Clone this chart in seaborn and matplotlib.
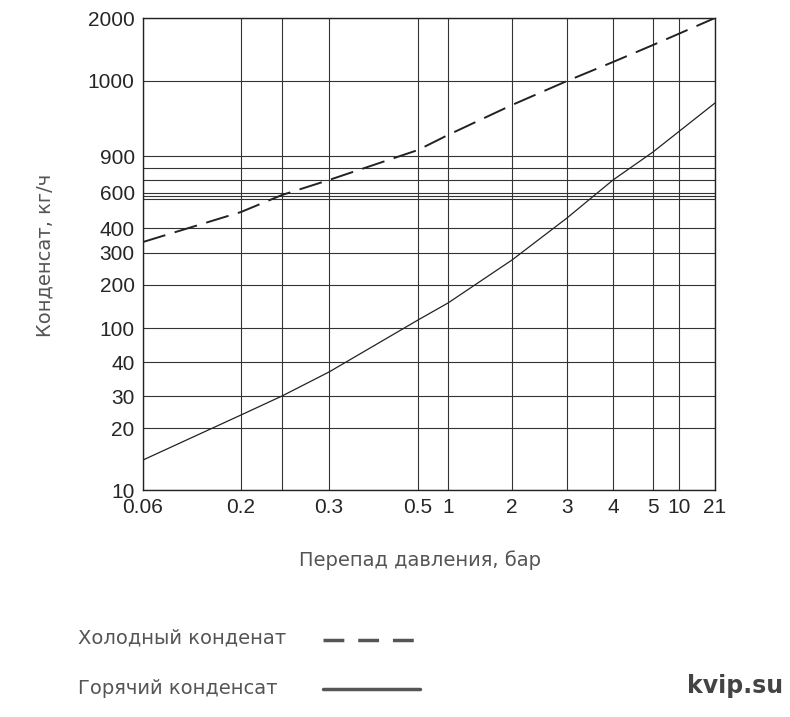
import matplotlib
matplotlib.use("Agg")
import matplotlib.pyplot as plt
import seaborn as sns
import pandas as pd

sns.set_style("white")

# x tick positions (chart units) and labels
x_tick_pos = [0, 98, 139, 186, 275, 305, 369, 424, 470, 510, 536, 572]
x_tick_lab = ["0.06", "0.2", "", "0.3", "0.5", "1", "2", "3", "4", "5", "10", "21"]
# y gridline positions and labels
y_tick_pos = [0, 62, 94, 128, 162, 205, 237, 262, 291, 294, 297, 310, 322, 334, 409, 472]
y_tick_lab = ["10", "20", "30", "40", "100", "200", "300", "400", "", "", "600", "", "", "900", "1000", "2000"]

# curves (chart units)
cold_x = [0, 98, 139, 186, 275, 305, 369, 424, 470, 510, 572]
cold_y = [248, 278, 295, 310, 340, 355, 385, 409, 428, 445, 472]
hot_x = [0, 98, 139, 186, 275, 305, 369, 424, 470, 510, 572]
hot_y = [30, 75, 94, 118, 170, 187, 230, 272, 310, 338, 387]

fig = plt.figure(figsize=(7.9, 7.17), dpi=100)
ax = fig.add_axes([143/790, (717-490)/717, 572/790, 472/717])

for x in x_tick_pos:
    ax.axvline(x, color="#333", lw=0.8, zorder=1)
for y in y_tick_pos:
    ax.axhline(y, color="#333", lw=0.8, zorder=1)

df_c = pd.DataFrame({"x": cold_x, "y": cold_y})
df_h = pd.DataFrame({"x": hot_x, "y": hot_y})
sns.lineplot(data=df_c, x="x", y="y", ax=ax, color="#222", lw=1.4, linestyle=(0, (12, 5)))
sns.lineplot(data=df_h, x="x", y="y", ax=ax, color="#222", lw=0.9)

ax.set_xlim(0, 572)
ax.set_ylim(0, 472)
ax.set_xticks(x_tick_pos)
ax.set_xticklabels(x_tick_lab, fontfamily="Liberation Sans", fontsize=15)
labs = ax.get_xticklabels()
shifts = {3: -10, 4: -4, 11: -8}
import matplotlib.transforms as mt
for i, d in shifts.items():
    labs[i].set_transform(labs[i].get_transform() + mt.ScaledTranslation(d/100, 0, fig.dpi_scale_trans))
ax.set_yticks(y_tick_pos)
ax.set_yticklabels(y_tick_lab, fontfamily="Liberation Sans", fontsize=15)
ax.tick_params(length=0, pad=6)
ax.set_xlabel("")
ax.set_ylabel("")
for s in ax.spines.values():
    s.set_color("#222")
    s.set_linewidth(1)

gray = "#555555"
fig.text(45/790, 1 - 255/717, "Конденсат, кг/ч", rotation=90, ha="center", va="center",
         fontsize=14, color=gray, fontfamily="DejaVu Sans")
fig.text(420/790, 1 - 560/717, "Перепад давления, бар", ha="center", va="center",
         fontsize=14, color=gray, fontfamily="DejaVu Sans")
fig.text(78/790, 1 - 638/717, "Холодный конденат", ha="left", va="center",
         fontsize=14, color=gray, fontfamily="DejaVu Sans")
fig.text(78/790, 1 - 689/717, "Горячий конденсат", ha="left", va="center",
         fontsize=14, color=gray, fontfamily="DejaVu Sans")
fig.add_artist(plt.Line2D([323/790, 420/790], [1 - 640/717] * 2, color=gray, lw=2.5,
                          linestyle=(0, (6, 4))))
fig.add_artist(plt.Line2D([323/790, 420/790], [1 - 689/717] * 2, color=gray, lw=2.5))
fig.text(783/790, 1 - 686/717, "kvip.su", ha="right", va="center",
         fontsize=17, fontweight="bold", color="#444", fontfamily="DejaVu Sans")

fig.savefig("out.png", dpi=100)
